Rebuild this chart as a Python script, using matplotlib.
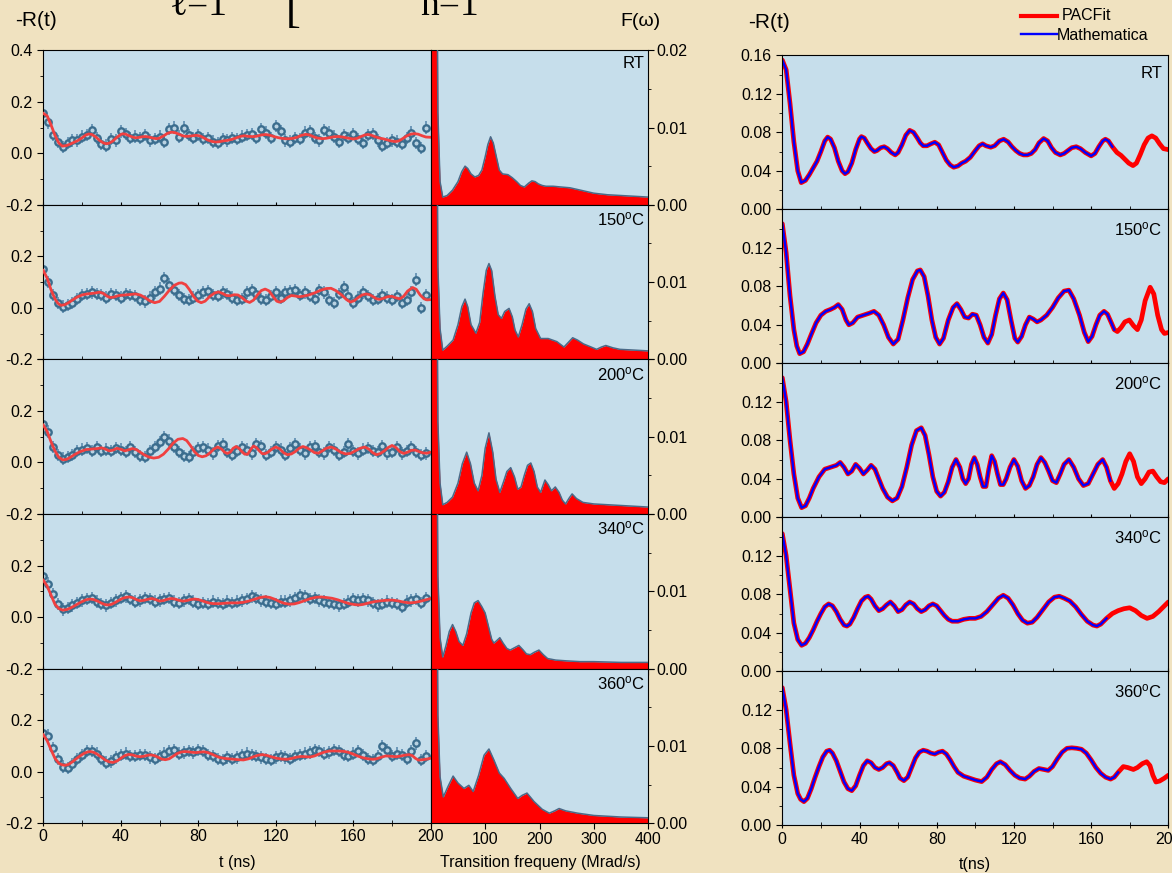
"""
PAC spectra: R(t) fits + Fourier spectra (left), PACFit vs Mathematica (right)
"""
import numpy as np
import matplotlib.pyplot as plt
from matplotlib.lines import Line2D

plt.rcParams['font.family'] = ['Liberation Sans', 'DejaVu Sans']
plt.rcParams['mathtext.fontset'] = 'custom'
plt.rcParams['mathtext.rm'] = 'Liberation Sans'
plt.rcParams['mathtext.it'] = 'Liberation Sans:italic'

# ---------------- data ----------------
labels = ['RT', '150$^{\\rm o}$C', '200$^{\\rm o}$C', '340$^{\\rm o}$C', '360$^{\\rm o}$C']

# measured points, every 2.5 ns
t_pts = np.arange(0, 200, 2.5)
pts_rt = [0.155, 0.12, 0.07, 0.045, 0.025, 0.04, 0.05, 0.05, 0.065, 0.07,
          0.09, 0.06, 0.035, 0.03, 0.055, 0.05, 0.085, 0.075, 0.06, 0.065,
          0.06, 0.07, 0.05, 0.055, 0.065, 0.045, 0.095, 0.10, 0.065, 0.10,
          0.07, 0.06, 0.07, 0.055, 0.06, 0.045, 0.04, 0.055, 0.05, 0.06,
          0.055, 0.065, 0.07, 0.075, 0.06, 0.095, 0.08, 0.06, 0.105, 0.085,
          0.05, 0.045, 0.06, 0.055, 0.08, 0.085, 0.06, 0.05, 0.09, 0.08,
          0.065, 0.045, 0.07, 0.06, 0.075, 0.055, 0.04, 0.07, 0.075, 0.05,
          0.03, 0.04, 0.05, 0.045, 0.035, 0.06, 0.08, 0.04, 0.02, 0.10]
pts_150 = [0.15, 0.10, 0.05, 0.02, 0.005, 0.01, 0.02, 0.035, 0.05, 0.055,
           0.06, 0.055, 0.05, 0.04, 0.055, 0.05, 0.04, 0.055, 0.05, 0.045,
           0.03, 0.025, 0.04, 0.06, 0.075, 0.115, 0.09, 0.07, 0.05, 0.035,
           0.03, 0.04, 0.05, 0.06, 0.065, 0.05, 0.045, 0.06, 0.055, 0.04,
           0.03, 0.035, 0.06, 0.07, 0.055, 0.035, 0.03, 0.045, 0.06, 0.04,
           0.06, 0.065, 0.07, 0.05, 0.06, 0.045, 0.035, 0.07, 0.06, 0.03,
           0.02, 0.055, 0.08, 0.045, 0.02, 0.04, 0.06, 0.045, 0.03, 0.035,
           0.05, 0.04, 0.03, 0.045, 0.02, 0.03, 0.06, 0.11, 0.0, 0.05]
pts_200 = [0.15, 0.12, 0.06, 0.03, 0.015, 0.02, 0.03, 0.045, 0.05, 0.055,
           0.045, 0.06, 0.045, 0.05, 0.045, 0.055, 0.05, 0.04, 0.06, 0.04,
           0.025, 0.02, 0.045, 0.06, 0.08, 0.10, 0.085, 0.06, 0.04, 0.025,
           0.02, 0.04, 0.055, 0.06, 0.05, 0.035, 0.065, 0.07, 0.04, 0.03,
           0.045, 0.06, 0.05, 0.035, 0.07, 0.065, 0.03, 0.04, 0.06, 0.05,
           0.03, 0.055, 0.07, 0.05, 0.035, 0.06, 0.065, 0.04, 0.035, 0.06,
           0.05, 0.03, 0.04, 0.07, 0.045, 0.035, 0.05, 0.055, 0.045, 0.04,
           0.065, 0.035, 0.04, 0.06, 0.035, 0.045, 0.06, 0.04, 0.03, 0.035]
pts_340 = [0.16, 0.13, 0.09, 0.05, 0.03, 0.035, 0.045, 0.055, 0.065, 0.07,
           0.075, 0.06, 0.05, 0.045, 0.055, 0.065, 0.075, 0.08, 0.07, 0.06,
           0.065, 0.075, 0.07, 0.06, 0.065, 0.07, 0.075, 0.06, 0.055, 0.065,
           0.07, 0.06, 0.05, 0.055, 0.05, 0.06, 0.055, 0.05, 0.06, 0.055,
           0.06, 0.065, 0.07, 0.08, 0.075, 0.065, 0.06, 0.055, 0.05, 0.06,
           0.06, 0.065, 0.075, 0.085, 0.08, 0.07, 0.075, 0.065, 0.06, 0.055,
           0.05, 0.045, 0.05, 0.06, 0.07, 0.065, 0.07, 0.065, 0.055, 0.045,
           0.05, 0.06, 0.055, 0.05, 0.04, 0.06, 0.065, 0.07, 0.055, 0.075]
pts_360 = [0.15, 0.14, 0.09, 0.05, 0.02, 0.015, 0.03, 0.05, 0.065, 0.08,
           0.08, 0.07, 0.05, 0.035, 0.04, 0.055, 0.065, 0.07, 0.06, 0.06,
           0.065, 0.065, 0.055, 0.05, 0.06, 0.07, 0.08, 0.085, 0.07, 0.075,
           0.08, 0.075, 0.085, 0.08, 0.065, 0.06, 0.05, 0.045, 0.055, 0.05,
           0.055, 0.065, 0.07, 0.065, 0.06, 0.055, 0.05, 0.045, 0.055, 0.06,
           0.055, 0.05, 0.06, 0.065, 0.07, 0.075, 0.085, 0.08, 0.07, 0.075,
           0.085, 0.08, 0.065, 0.06, 0.07, 0.08, 0.065, 0.05, 0.045, 0.06,
           0.1, 0.085, 0.06, 0.07, 0.065, 0.05, 0.08, 0.11, 0.045, 0.06]
points = [pts_rt, pts_150, pts_200, pts_340, pts_360]

# fitted -R(t) curves (PACFit) as (t, value) pairs
fit_rt = [(0, 0.155), (2, 0.145), (4, 0.11), (6, 0.07), (8, 0.04), (9.8, 0.0277),
          (12, 0.03), (14, 0.036), (16, 0.043), (18, 0.05), (20, 0.06), (22, 0.071),
          (23.5, 0.075), (25, 0.073), (27, 0.064), (29, 0.05), (31, 0.04), (32.5, 0.037),
          (34, 0.039), (36, 0.048), (38, 0.062), (40, 0.073), (41, 0.0755), (42.5, 0.074),
          (44, 0.069), (46, 0.063), (47.7, 0.060), (49, 0.061), (51, 0.064), (52.8, 0.065),
          (54.5, 0.063), (56.5, 0.059), (58.5, 0.0565), (60, 0.059), (62, 0.067), (64, 0.077),
          (66, 0.082), (68, 0.080), (70, 0.074), (71.5, 0.069), (73, 0.066), (75, 0.066),
          (77, 0.068), (79, 0.0697), (81, 0.067), (83, 0.059), (85, 0.051), (87, 0.046),
          (88.8, 0.0437), (91, 0.045), (93, 0.048), (95, 0.050), (97.4, 0.054), (100, 0.061),
          (102, 0.066), (103.8, 0.068), (105.5, 0.066), (108, 0.0645), (110, 0.066),
          (112.5, 0.071), (114.7, 0.0728), (117, 0.070), (119, 0.065), (121, 0.061),
          (123, 0.058), (125, 0.0565), (127, 0.0565), (129, 0.058), (131, 0.062), (133, 0.069),
          (135.4, 0.0735), (137.5, 0.071), (139.5, 0.064), (141.5, 0.059), (144, 0.0565),
          (146, 0.058), (148, 0.061), (150, 0.064), (152.3, 0.065), (154.5, 0.063), (157, 0.059),
          (160, 0.0555), (162, 0.058), (164, 0.065), (166, 0.071), (167.4, 0.0728), (169, 0.071),
          (171, 0.065), (173.4, 0.059), (175.5, 0.056), (177.5, 0.052), (179.5, 0.048),
          (181.7, 0.0454), (183.5, 0.048), (185.5, 0.057), (187.5, 0.067), (189.5, 0.074),
          (191.5, 0.0763), (193.5, 0.074), (195.5, 0.068), (197.5, 0.063), (200, 0.062)]
fit_150 = [(0, 0.145), (2, 0.115), (4, 0.07), (6, 0.035), (7.5, 0.018), (9, 0.01),
           (11, 0.012), (13, 0.02), (15, 0.03), (17.5, 0.042), (20, 0.05), (22.5, 0.054),
           (25, 0.056), (27, 0.058), (29, 0.061), (31, 0.056), (33, 0.045), (34.5, 0.04),
           (36.5, 0.042), (39, 0.048), (42, 0.05), (45, 0.052), (47.5, 0.054), (50, 0.05),
           (52.5, 0.04), (55, 0.027), (57.5, 0.02), (60, 0.025), (62.5, 0.045), (65, 0.068),
           (67.5, 0.087), (70, 0.096), (71.5, 0.097), (73.5, 0.09), (75.5, 0.07), (77.5, 0.045),
           (79.5, 0.027), (81.5, 0.02), (83.5, 0.026), (86, 0.045), (88.5, 0.058), (90.5, 0.062),
           (92.5, 0.056), (94.5, 0.048), (96.5, 0.047), (98.5, 0.051), (100.5, 0.05),
           (102.5, 0.04), (104.5, 0.027), (106.5, 0.021), (108.5, 0.03), (110.5, 0.05),
           (112.5, 0.067), (114.5, 0.073), (116.5, 0.066), (118.5, 0.045), (120.5, 0.026),
           (122, 0.022), (124, 0.028), (126, 0.04), (128, 0.048), (130, 0.046), (132, 0.043),
           (134, 0.045), (137, 0.05), (140, 0.058), (143, 0.068), (146, 0.075), (148.5, 0.076),
           (151, 0.067), (154, 0.05), (156.5, 0.032), (158.5, 0.0225), (160.5, 0.028),
           (162.5, 0.04), (164.5, 0.05), (166.7, 0.054), (168.5, 0.051), (170.5, 0.042),
           (172, 0.035), (173.6, 0.033), (175.5, 0.037), (177.5, 0.043), (179.8, 0.045),
           (182, 0.039), (184, 0.035), (186, 0.045), (188, 0.065), (190.6, 0.079),
           (192.5, 0.072), (194.5, 0.05), (196.5, 0.035), (198, 0.031), (200, 0.032)]
fit_200 = [(0, 0.145), (2, 0.12), (4, 0.08), (6, 0.045), (8, 0.02), (10, 0.01), (12, 0.012),
           (14, 0.02), (16, 0.03), (19, 0.042), (22, 0.05), (25, 0.052), (28, 0.054),
           (30, 0.057), (32, 0.052), (34, 0.045), (36, 0.048), (38, 0.055), (40, 0.051),
           (42, 0.045), (44, 0.049), (46, 0.054), (48, 0.05), (50, 0.04), (52, 0.03),
           (54.5, 0.021), (57, 0.017), (59.5, 0.02), (62, 0.032), (64.5, 0.052), (67, 0.075),
           (69.5, 0.09), (72, 0.093), (74, 0.085), (76, 0.065), (78, 0.042), (80, 0.027),
           (82, 0.022), (84, 0.026), (86, 0.037), (88, 0.052), (90, 0.06), (92, 0.052),
           (93.5, 0.04), (95, 0.035), (96.5, 0.04), (98, 0.055), (99.5, 0.062), (101, 0.055),
           (102.5, 0.042), (104, 0.032), (105.5, 0.032), (107, 0.05), (108.5, 0.064),
           (110, 0.058), (111.5, 0.045), (113, 0.034), (114.5, 0.034), (116, 0.04), (118, 0.052),
           (120, 0.06), (122, 0.053), (124, 0.038), (126, 0.03), (128, 0.033), (130, 0.042),
           (132, 0.055), (134, 0.062), (136, 0.057), (138, 0.048), (140, 0.038), (142, 0.036),
           (144, 0.045), (146, 0.055), (148.5, 0.06), (151, 0.052), (153.5, 0.04), (156, 0.033),
           (158.5, 0.035), (161, 0.045), (163.5, 0.055), (166, 0.06), (168, 0.052), (170, 0.038),
           (172, 0.03), (174, 0.035), (176, 0.045), (178, 0.058), (180, 0.066), (182, 0.058),
           (184, 0.042), (186, 0.035), (188, 0.04), (190, 0.047), (192, 0.048), (194, 0.042),
           (196, 0.037), (198, 0.036), (200, 0.04)]
fit_340 = [(0, 0.143), (2, 0.12), (4, 0.085), (6, 0.05), (8, 0.033), (10, 0.027), (12, 0.029),
           (14, 0.035), (16, 0.043), (18, 0.052), (20, 0.06), (22, 0.067), (24, 0.07),
           (26, 0.068), (28, 0.062), (30, 0.054), (32, 0.048), (33.5, 0.047), (35, 0.049),
           (37, 0.056), (39, 0.065), (41, 0.073), (43, 0.077), (44.5, 0.078), (46, 0.075),
           (48, 0.068), (50, 0.063), (52, 0.065), (54, 0.069), (56, 0.072), (58, 0.068),
           (60, 0.062), (62, 0.064), (64, 0.069), (66, 0.072), (68, 0.07), (70, 0.065),
           (72, 0.062), (74, 0.064), (76, 0.068), (78, 0.07), (80, 0.068), (82, 0.063),
           (84, 0.058), (86, 0.054), (88, 0.052), (91, 0.052), (94, 0.054), (97, 0.055),
           (100, 0.055), (103, 0.057), (106, 0.062), (109, 0.069), (112, 0.076), (114.5, 0.079),
           (117, 0.076), (119.5, 0.069), (122, 0.06), (124.5, 0.053), (127, 0.05),
           (129.5, 0.051), (132, 0.056), (135, 0.064), (138, 0.072), (141, 0.077),
           (143.5, 0.078), (146, 0.076), (149, 0.073), (152, 0.067), (155, 0.059), (158, 0.052),
           (161, 0.048), (163, 0.047), (165, 0.049), (168, 0.055), (171, 0.06), (174, 0.063),
           (177, 0.065), (180, 0.066), (183, 0.063), (186, 0.058), (189, 0.055), (192, 0.057),
           (195, 0.062), (198, 0.068), (200, 0.072)]
fit_360 = [(0, 0.143), (2, 0.12), (4, 0.085), (6, 0.052), (8, 0.033), (9.5, 0.027),
           (11.2, 0.0246), (13, 0.028), (15, 0.038), (17, 0.05), (19, 0.061), (21, 0.071),
           (23, 0.077), (24.5, 0.078), (26, 0.075), (28, 0.067), (30, 0.056), (32, 0.045),
           (34, 0.038), (36, 0.036), (38, 0.041), (40, 0.052), (42, 0.062), (44, 0.067),
           (46, 0.065), (48, 0.06), (50, 0.058), (52, 0.06), (54, 0.064), (55.5, 0.065),
           (57.5, 0.062), (59.5, 0.055), (61, 0.049), (63, 0.0464), (65, 0.05), (67, 0.06),
           (69, 0.07), (71, 0.076), (73, 0.078), (75, 0.077), (77, 0.075), (79, 0.074),
           (81, 0.076), (83, 0.077), (85, 0.074), (87, 0.068), (89, 0.061), (91, 0.055),
           (94, 0.051), (97, 0.049), (100, 0.047), (103.3, 0.0454), (106, 0.05), (108.5, 0.058),
           (111, 0.064), (113, 0.066), (115.5, 0.063), (118, 0.057), (120.5, 0.052),
           (123, 0.049), (125.8, 0.048), (128, 0.051), (130.5, 0.056), (133, 0.059),
           (135.5, 0.058), (137.8, 0.057), (140, 0.061), (142.5, 0.069), (145, 0.076),
           (147.5, 0.08), (150, 0.0805), (152.5, 0.08), (155, 0.079), (157.5, 0.075),
           (160, 0.068), (162.5, 0.06), (165, 0.054), (167.5, 0.05), (170.1, 0.048), (172, 0.05),
           (174, 0.055), (176.7, 0.061), (179, 0.06), (181.9, 0.058), (184, 0.06),
           (186.5, 0.064), (188.8, 0.066), (190.5, 0.062), (192, 0.052), (193.6, 0.045),
           (195.5, 0.046), (198, 0.049), (200, 0.052)]
fits = [fit_rt, fit_150, fit_200, fit_340, fit_360]
# Mathematica curve coincides with PACFit up to this time (ns)
blue_end = [173, 172, 171, 170, 174]

# Fourier spectra F(w)
f_rt = [0, 10, 13, 17, 22, 30, 40, 50, 57, 63, 68, 74, 81, 88, 94, 100, 105, 110, 115,
        120, 126, 132, 142, 150, 158, 165, 172, 180, 186, 192, 198, 205, 212, 225, 240,
        256, 275, 300, 325, 350, 375, 400]
s_rt = [0.05, 0.05, 0.012, 0.003, 0.001, 0.0012, 0.0019, 0.003, 0.0043, 0.005, 0.0047,
        0.004, 0.0036, 0.0038, 0.0045, 0.0062, 0.0078, 0.0088, 0.0080, 0.0064, 0.0045,
        0.004, 0.0039, 0.0035, 0.003, 0.0025, 0.0023, 0.0028, 0.0031, 0.003, 0.0027,
        0.0025, 0.0024, 0.0024, 0.0023, 0.0022, 0.0019, 0.0015, 0.0013, 0.0012, 0.0011,
        0.001]
f_150 = [0, 10, 13, 17, 22, 30, 41, 50, 57, 63, 68, 74, 83, 90, 96, 102, 107, 112, 118,
         124, 130, 136, 144, 150, 155, 161, 168, 175, 181, 187, 193, 202, 216, 232, 245,
         253, 261, 270, 281, 295, 305, 314, 322, 335, 348, 375, 400]
s_150 = [0.05, 0.05, 0.012, 0.004, 0.0012, 0.0017, 0.0025, 0.0045, 0.0068, 0.0078,
         0.0068, 0.0045, 0.0034, 0.0048, 0.0085, 0.0115, 0.0124, 0.0115, 0.0082, 0.0058,
         0.0053, 0.0062, 0.0066, 0.0055, 0.0038, 0.0029, 0.0045, 0.0065, 0.0072, 0.0062,
         0.004, 0.0027, 0.0027, 0.0023, 0.0016, 0.0022, 0.0028, 0.0025, 0.002, 0.0016,
         0.0013, 0.0016, 0.0018, 0.0015, 0.0013, 0.0012, 0.0011]
f_200 = [0, 10, 13, 17, 22, 30, 40, 50, 58, 66, 73, 80, 87, 94, 100, 107, 114, 120, 127,
         134, 140, 147, 154, 160, 166, 172, 178, 184, 190, 196, 202, 210, 216, 222, 229,
         236, 242, 248, 254, 260, 268, 280, 300, 325, 350, 375, 400]
s_200 = [0.05, 0.05, 0.012, 0.004, 0.0012, 0.0015, 0.0022, 0.004, 0.0065, 0.0080,
         0.0065, 0.004, 0.003, 0.005, 0.0085, 0.0105, 0.008, 0.0045, 0.0028, 0.0042,
         0.0055, 0.006, 0.0048, 0.0032, 0.0035, 0.005, 0.0063, 0.0066, 0.0055, 0.0035,
         0.0028, 0.0044, 0.0038, 0.003, 0.0035, 0.0028, 0.0018, 0.0013, 0.002, 0.0026,
         0.002, 0.0015, 0.0013, 0.0012, 0.0011, 0.001, 0.0009]
f_340 = [0, 10, 13, 17, 22, 28, 34, 40, 46, 52, 59, 66, 74, 80, 87, 94, 100, 106, 112,
         116, 121, 127, 133, 140, 146, 154, 162, 170, 176, 183, 190, 199, 207, 215, 230,
         250, 275, 300, 350, 400]
s_340 = [0.05, 0.05, 0.012, 0.004, 0.0015, 0.003, 0.0048, 0.0057, 0.0048, 0.0035, 0.003,
         0.0045, 0.0072, 0.0085, 0.0088, 0.008, 0.0072, 0.0055, 0.0038, 0.0033, 0.0036,
         0.004, 0.0033, 0.0026, 0.0024, 0.0027, 0.003, 0.0024, 0.0019, 0.0018, 0.0021,
         0.0024, 0.0018, 0.0013, 0.0011, 0.001, 0.0009, 0.0009, 0.0008, 0.0008]
f_360 = [0, 10, 13, 17, 23, 32, 41, 50, 61, 70, 78, 88, 98, 107, 116, 126, 135, 147, 160,
         168, 177, 190, 205, 218, 228, 236, 248, 270, 300, 350, 400]
s_360 = [0.05, 0.05, 0.014, 0.006, 0.0034, 0.0048, 0.0061, 0.0052, 0.0045, 0.0049,
         0.0041, 0.0062, 0.0088, 0.0096, 0.0082, 0.0065, 0.0058, 0.0045, 0.0032, 0.0036,
         0.0039, 0.0028, 0.0018, 0.0013, 0.0016, 0.0019, 0.0016, 0.0013, 0.001, 0.0008,
         0.0007]
freqs = [f_rt, f_150, f_200, f_340, f_360]
spectra = [s_rt, s_150, s_200, s_340, s_360]

# ---------------- layout ----------------
W, H = 1172, 873
BG = '#f0e2c0'
FACE = '#c6deeb'
fig = plt.figure(figsize=(W / 100, H / 100), dpi=100, facecolor=BG)


def box(x0, y0, x1, y1):
    return [x0 / W, 1 - y1 / H, (x1 - x0) / W, (y1 - y0) / H]


TS = 11.5  # tick label size
row_h = 154.6
for k in range(5):
    top = 50.2 + k * row_h
    bot = top + row_h
    last = (k == 4)
    ft = np.array([p[0] for p in fits[k]])
    fv = np.array([p[1] for p in fits[k]])

    # time domain
    ax = fig.add_axes(box(43.3, top, 430.8, bot), facecolor=FACE)
    ax.errorbar(t_pts, points[k], yerr=0.024, fmt='o', ms=4.6, mfc='#b9d2e2',
                mec='#3b6d8e', mew=1.7, ecolor='#5d8cb0', elinewidth=1.2,
                capsize=0, zorder=2)
    ax.plot(ft, fv, color='#f04040', lw=2, zorder=3, solid_joinstyle='round')
    ax.set_xlim(0, 200)
    ax.set_ylim(-0.2, 0.4)
    ax.set_yticks([-0.2, 0.0, 0.2, 0.4])
    ax.set_yticklabels(['-0.2', '0.0', '0.2', '0.4' if k == 0 else ''])
    ax.set_yticks([-0.1, 0.1, 0.3], minor=True)
    ax.set_xticks(np.arange(0, 201, 40))
    ax.set_xticks(np.arange(20, 200, 40), minor=True)
    if not last:
        ax.set_xticklabels([])
    ax.tick_params(axis='both', which='major', labelsize=TS, direction='out', length=4)
    ax.tick_params(axis='both', which='minor', direction='out', length=2.5)
    ax.tick_params(axis='x', which='both', direction='inout', length=5, pad=2)

    # frequency domain
    ax2 = fig.add_axes(box(430.8, top, 648.2, bot), facecolor=FACE)
    ax2.fill_between(freqs[k], spectra[k], 0, color='#ff0000', lw=0, zorder=2)
    ax2.plot(freqs[k], spectra[k], color='#4a6a88', lw=1.1, zorder=3)
    ax2.set_xlim(0, 400)
    ax2.set_ylim(0, 0.02)
    ax2.yaxis.tick_right()
    ax2.set_yticks([0, 0.01, 0.02])
    ax2.set_yticklabels(['0.00', '0.01', '0.02' if k == 0 else ''])
    ax2.set_yticks([0.005, 0.015], minor=True)
    ax2.set_xticks([0, 100, 200, 300, 400])
    if last:
        ax2.set_xticklabels(['', '100', '200', '300', '400'])
    else:
        ax2.set_xticklabels([])
    ax2.tick_params(axis='both', which='major', labelsize=TS, direction='out', length=4, pad=2)
    ax2.tick_params(axis='y', which='minor', direction='out', length=2.5)
    ax2.text(0.985, 0.965, labels[k], transform=ax2.transAxes, ha='right', va='top',
             fontsize=12)

    # right-hand comparison
    rtop = 55.3 + k * 154.0
    ax3 = fig.add_axes(box(782.3, rtop, 1168.3, rtop + 154.0), facecolor=FACE)
    ax3.plot(ft, fv, color='#ff0000', lw=3.4, solid_capstyle='round', solid_joinstyle='round')
    m = ft <= blue_end[k]
    ax3.plot(ft[m], fv[m], color='#0000ff', lw=1.7, solid_joinstyle='round')
    ax3.set_xlim(0, 200)
    ax3.set_ylim(0, 0.16)
    yt = [0, 0.04, 0.08, 0.12, 0.16]
    ax3.set_yticks(yt)
    ax3.set_yticklabels(['0.00', '0.04', '0.08', '0.12', '0.16' if k == 0 else ''])
    ax3.set_yticks([0.02, 0.06, 0.10, 0.14], minor=True)
    ax3.set_xticks(np.arange(0, 201, 40))
    ax3.set_xticks(np.arange(20, 200, 40), minor=True)
    if not last:
        ax3.set_xticklabels([])
    ax3.tick_params(axis='both', which='major', labelsize=TS, direction='out', length=4)
    ax3.tick_params(axis='both', which='minor', direction='out', length=2.5)
    ax3.tick_params(axis='x', which='both', direction='inout', length=5, pad=2)
    ax3.text(0.985, 0.93, labels[k], transform=ax3.transAxes, ha='right', va='top',
             fontsize=12)

# axis titles
fig.text(237 / W, 1 - 862 / H, 't (ns)', fontsize=11.5, ha='center', va='center')
fig.text(540 / W, 1 - 862 / H, 'Transition frequeny (Mrad/s)', fontsize=11.5,
         ha='center', va='center')
fig.text(975 / W, 1 - 864 / H, 't(ns)', fontsize=11.5, ha='center', va='center')

# headers
fig.text(15 / W, 1 - 21 / H, '-R(t)', fontsize=15, va='center', ha='left')
fig.text(661 / W, 1 - 21 / H, 'F(\u03c9)', fontsize=14, va='center', ha='right')
fig.text(748 / W, 1 - 22 / H, '-R(t)', fontsize=15, va='center', ha='left')

# clipped pieces of an equation above the plot
serif = ['Liberation Serif', 'DejaVu Serif']
fig.text(170 / W, 1 - 15 / H, '\u2113=1', fontsize=27, family=serif, va='baseline')
fig.text(286 / W, 1 - 22 / H, '[', fontsize=32, family=serif, va='baseline')
fig.text(420 / W, 1 - 15 / H, 'n=1', fontsize=27, family=serif, va='baseline')

# legend
fig.add_artist(Line2D([1021 / W, 1057 / W], [1 - 16 / H, 1 - 16 / H], color='#ff0000', lw=3))
fig.add_artist(Line2D([1021 / W, 1057 / W], [1 - 34 / H, 1 - 34 / H], color='#0000ff', lw=1.7))
fig.text(1062 / W, 1 - 16 / H, 'PACFit', fontsize=11.5, va='center')
fig.text(1057 / W, 1 - 35 / H, 'Mathematica', fontsize=11.5, va='center')

fig.savefig('out.png', dpi=100, facecolor=BG)
